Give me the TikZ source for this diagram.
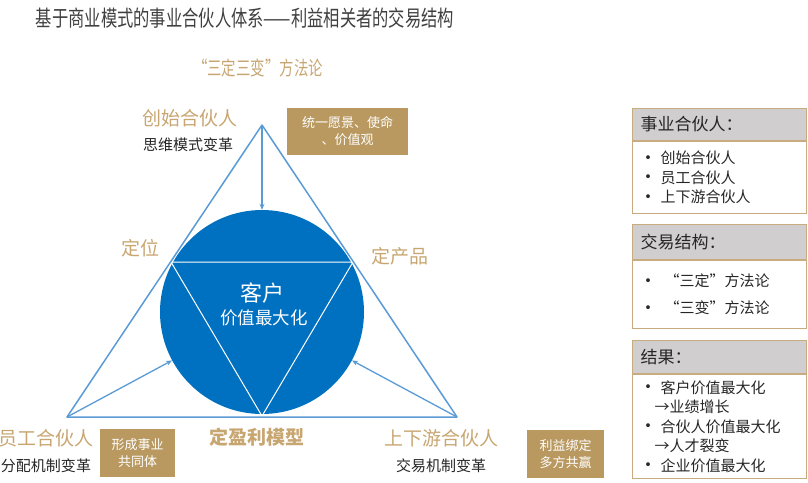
\documentclass[tikz,border=0pt]{standalone}
\usepackage{fontspec}
\setmainfont{Noto Sans CJK SC}
\newfontfamily\narrowcjk[FakeStretch=0.74]{Noto Sans CJK SC}
\usetikzlibrary{arrows.meta,positioning}
\definecolor{linkblue}{RGB}{91,155,213}
\definecolor{custblue}{RGB}{0,112,192}
\definecolor{goldtext}{RGB}{200,166,114}
\definecolor{goldbox}{RGB}{185,153,96}
\definecolor{panelgray}{RGB}{208,206,206}
\definecolor{panelline}{RGB}{200,172,128}
\definecolor{titlegray}{RGB}{64,64,64}
\newcommand{\dotitem}{\makebox[21pt][l]{\fontsize{18}{10}\selectfont\raisebox{-0.5pt}{•}}}

\begin{document}
\begin{tikzpicture}[x=1pt, y=-1pt,
      role/.style={text=goldtext, inner sep=0pt,
                   font=\fontsize{19}{19}\selectfont},
      change/.style={text=black!85, inner sep=0pt,
                     font=\fontsize{15}{15}\selectfont},
      goal/.style={fill=goldbox, text=white, align=center,
                   font=\fontsize{13}{17}\selectfont, inner sep=0pt},
      edge/.style={draw=linkblue, line width=1.5pt, line join=round},
      link/.style={draw=linkblue, line width=1.3pt, -{Stealth[length=6pt,width=5pt]}},
      panelhead/.style={draw=panelline, fill=panelgray, line width=1pt,
                        anchor=north west, minimum width=174pt, minimum height=32pt,
                        text width=158pt, inner xsep=8pt, align=left,
                        font=\fontsize{17}{17}\selectfont, text=black!85},
      panelbody/.style={draw=panelline, line width=1pt, anchor=north west,
                        minimum width=174pt, text width=160pt, inner xsep=7pt,
                        align=left, text=black!85}]
    \useasboundingbox (0,0) rectangle (808,482);

    % titles
    \node[text=titlegray, font=\narrowcjk\fontsize{22}{22}\selectfont] (title) at (245,18)
      {基于商业模式的事业合伙人体系——利益相关者的交易结构};
    \node[text=goldtext, font=\narrowcjk\fontsize{19.5}{19.5}\selectfont] (method) at (258,68)
      {“三定三变”方法论};

    % triangle and customer
    \coordinate (top) at (262,125);
    \coordinate (bl) at (67,417);
    \coordinate (br) at (457,417);
    \node[circle, fill=custblue, minimum size=204pt, inner sep=0pt] (cust) at (262,312) {};
    \draw[white, line width=1pt, line join=round] (171,262) -- (353,262) -- (262,416) -- cycle;
    \node[text=white, font=\fontsize{22}{22}\selectfont] (custname) at (262,293) {客户};
    \node[text=white, font=\fontsize{17.5}{17.5}\selectfont] (custvalue) at (264,318) {价值最大化};
    \draw[edge] (top) -- (bl) -- (br) -- cycle;

    \draw[link] (top) -- (cust.north);
    \draw[link] (bl) -- (cust);
    \draw[link] (br) -- (cust);

    % partners
    \node[role] (founder) at (190,118) {创始合伙人};
    \node[change] (founderchg) at (188,145) {思维模式变革};
    \node[goal, minimum width=121pt, minimum height=47pt] (vision) at (347.5,131.5)
      {统一愿景、使命\\、价值观};

    \node[role] (staff) at (46,438) {员工合伙人};
    \node[change] (staffchg) at (46,466) {分配机制变革};
    \node[goal, minimum width=75pt, minimum height=48pt] (community) at (137.5,453)
      {形成事业\\共同体};

    \node[role] (chain) at (441,438) {上下游合伙人};
    \node[change] (chainchg) at (441,466) {交易机制变革};
    \node[goal, minimum width=77pt, minimum height=48pt] (winwin) at (565.5,454)
      {利益绑定\\多方共赢};

    % three fixes
    \node[role] (position) at (140,248) {定位};
    \node[role] (product) at (400,256) {定产品};
    \node[role, font=\bfseries\fontsize{19}{19}\selectfont] (profit) at (257,437) {定盈利模型};

    % side panels
    \node[panelhead] (parthead) at (632,108) {事业合伙人：};
    \node[panelbody, minimum height=72pt, font=\fontsize{15}{19.5}\selectfont,
          below=0pt of parthead.south west, anchor=north west] (partbody)
      {\dotitem 创始合伙人\\\dotitem 员工合伙人\\\dotitem 上下游合伙人};

    \node[panelhead, minimum height=35pt] (dealhead) at (632,224) {交易结构：};
    \node[panelbody, minimum height=68pt, font=\fontsize{15}{27}\selectfont,
          below=0pt of dealhead.south west, anchor=north west] (dealbody)
      {\dotitem\hspace{4pt}“三定”方法论\\\dotitem\hspace{4pt}“三变”方法论};

    \node[panelhead, minimum height=33pt] (resulthead) at (632,340) {结果：};
    \node[panelbody, minimum height=104pt, font=\fontsize{15}{19.5}\selectfont,
          below=0pt of resulthead.south west, anchor=north west] (resultbody)
      {\dotitem 客户价值最大化\\\hspace{15pt}→业绩增长\\
       \dotitem 合伙人价值最大化\\\hspace{15pt}→人才裂变\\
       \dotitem 企业价值最大化};
  \end{tikzpicture}
\end{document}
